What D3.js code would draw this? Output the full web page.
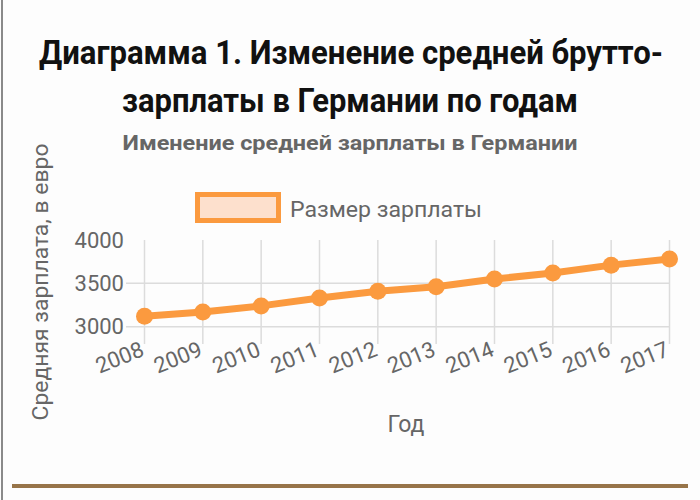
<!DOCTYPE html>
<html><head><meta charset="utf-8">
<script src="https://cdn.jsdelivr.net/npm/d3@7"></script>
<style>html,body{margin:0;padding:0;background:#fdfdfd;}svg{display:block;}</style>
</head><body>
<script>
const years = ["2008","2009","2010","2011","2012","2013","2014","2015","2016","2017"];
const salary = [3120, 3170, 3240, 3330, 3410, 3460, 3550, 3620, 3710, 3780];
const yTicks = [3000, 3500, 4000];
const titleLines = ["Диаграмма 1. Изменение средней брутто-", "зарплаты в Германии по годам"];
const chartTitle = "Именение средней зарплаты в Германии";
const legendLabel = "Размер зарплаты";
const yAxisTitle = "Средняя зарплата, в евро";
const xAxisTitle = "Год";

const W = 700, H = 500;
const svg = d3.select("body").append("svg").attr("width", W).attr("height", H)
  .style("font-family", "Roboto, sans-serif");
svg.append("rect").attr("width", W).attr("height", H).attr("fill", "#fdfdfd");

// frame decorations
svg.append("line").attr("x1", 2).attr("x2", 2).attr("y1", 0).attr("y2", H)
  .attr("stroke", "#8a8a8a").attr("stroke-width", 2);
svg.append("line").attr("x1", 12).attr("x2", 688).attr("y1", 486).attr("y2", 486)
  .attr("stroke", "#977449").attr("stroke-width", 4);

// main title
const tl = [{t: titleLines[0], y: 64, len: 624, x: 351}, {t: titleLines[1], y: 112, len: 456, x: 350}];
svg.selectAll("text.mt").data(tl).join("text").attr("class", "mt")
  .attr("x", d => d.x).attr("y", d => d.y).attr("text-anchor", "middle")
  .attr("font-size", 33).attr("font-weight", 700).attr("fill", "#111")
  .attr("textLength", d => d.len).attr("lengthAdjust", "spacingAndGlyphs")
  .text(d => d.t);

// chart title
svg.append("text").attr("x", 350).attr("y", 150).attr("text-anchor", "middle")
  .attr("font-size", 20).attr("font-weight", 700).attr("fill", "#666")
  .attr("textLength", 455).attr("lengthAdjust", "spacingAndGlyphs")
  .text(chartTitle);

// scales
const x = d3.scalePoint().domain(years).range([144.5, 669.5]);
const y = d3.scaleLinear().domain([3000, 4000]).range([326.7, 240]);

const grid = "#dcdcdc";
// horizontal grid
svg.append("g").selectAll("line").data(yTicks.filter(v => v < 4000)).join("line")
  .attr("x1", 126).attr("x2", 669.5)
  .attr("y1", d => y(d)).attr("y2", d => y(d))
  .attr("stroke", grid).attr("stroke-width", 1.5);
// vertical grid
svg.append("g").selectAll("line").data(years).join("line")
  .attr("x1", d => x(d)).attr("x2", d => x(d))
  .attr("y1", 240).attr("y2", 344)
  .attr("stroke", grid).attr("stroke-width", 1.5);

// y tick labels
svg.append("g").selectAll("text").data(yTicks).join("text")
  .attr("x", 124).attr("y", d => y(d) + 7.5).attr("text-anchor", "end")
  .attr("font-size", 22).attr("fill", "#666").text(d => d);

// x tick labels
svg.append("g").selectAll("text").data(years).join("text")
  .attr("transform", d => `translate(${x(d) - 2},${348}) rotate(-22)`)
  .attr("text-anchor", "end").attr("dy", "0.35em")
  .attr("font-size", 22).attr("fill", "#666").text(d => d);

// axis titles
svg.append("text").attr("transform", "translate(48,282) rotate(-90)")
  .attr("text-anchor", "middle").attr("font-size", 22).attr("fill", "#666")
  .attr("textLength", 277).attr("lengthAdjust", "spacingAndGlyphs")
  .text(yAxisTitle);
svg.append("text").attr("x", 406).attr("y", 432).attr("text-anchor", "middle")
  .attr("font-size", 23).attr("fill", "#666").text(xAxisTitle);

// legend
const orange = "#fb9a3f";
svg.append("rect").attr("x", 197.5).attr("y", 194.5).attr("width", 81).attr("height", 26)
  .attr("fill", "#fde0cd").attr("stroke", orange).attr("stroke-width", 5);
svg.append("text").attr("x", 290).attr("y", 217).attr("font-size", 22).attr("fill", "#666")
  .attr("textLength", 192).attr("lengthAdjust", "spacingAndGlyphs")
  .text(legendLabel);

// line + points
const pts = years.map((yr, i) => ({yr, v: salary[i]}));
svg.append("path").datum(pts)
  .attr("d", d3.line().x(d => x(d.yr)).y(d => y(d.v)))
  .attr("fill", "none").attr("stroke", orange).attr("stroke-width", 7)
  .attr("stroke-linejoin", "round");
svg.append("g").selectAll("circle").data(pts).join("circle")
  .attr("cx", d => x(d.yr)).attr("cy", d => y(d.v)).attr("r", 8.5)
  .attr("fill", orange);
</script>
</body></html>
